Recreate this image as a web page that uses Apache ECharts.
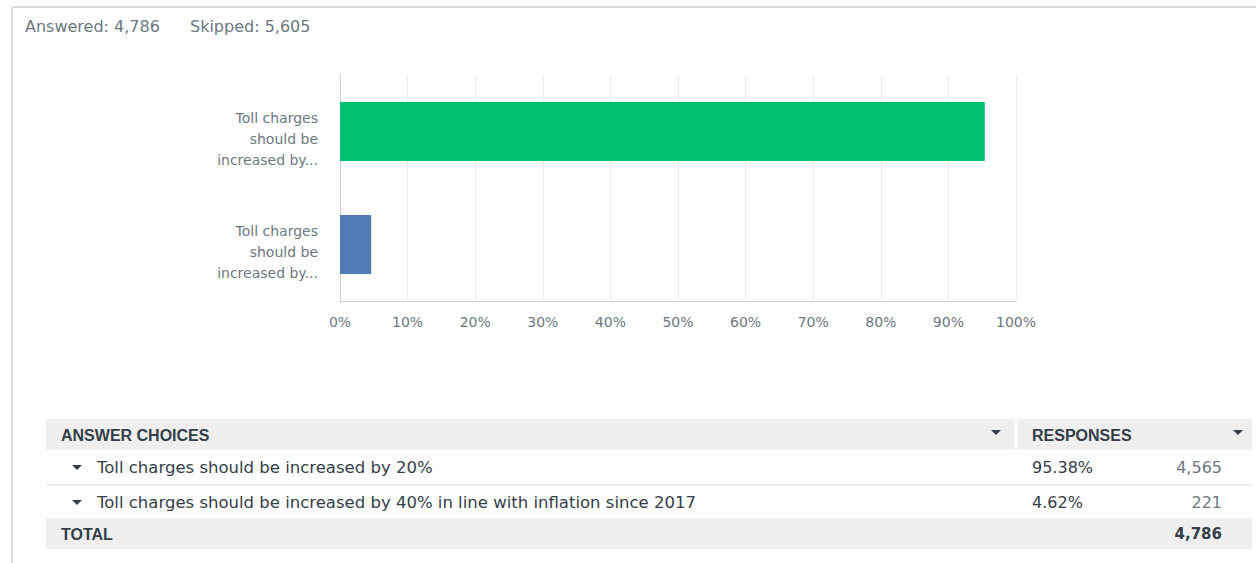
<!DOCTYPE html>
<html>
<head>
<meta charset="utf-8">
<script src="https://cdn.jsdelivr.net/npm/echarts@6/dist/echarts.min.js"></script>
<style>
html,body{margin:0;padding:0;background:#fff;}
#c{width:1256px;height:563px;}
</style>
</head>
<body>
<div id="c"></div>
<script>
var categories = [
  "Toll charges should be increased by 20%",
  "Toll charges should be increased by 40% in line with inflation since 2017"
];
var percents = [95.38, 4.62];
var counts = [4565, 221];
var answered = 4786;
var skipped = 5605;
var xTicks = [0, 10, 20, 30, 40, 50, 60, 70, 80, 90, 100];
var barColors = ["#00bf6f", "#507cb6"];

function fmt(n){ return n.toLocaleString("en-US"); }
function wrapLabel(s){
  var words = s.split(" "), lines = [], cur = "";
  for (var i = 0; i < words.length; i++) {
    var t = cur ? cur + " " + words[i] : words[i];
    if (t.length > 12 && cur) { lines.push(cur); cur = words[i]; } else { cur = t; }
  }
  if (cur) lines.push(cur);
  if (lines.length > 3) { lines = lines.slice(0, 3); lines[2] = lines[2] + "..."; }
  return '{p| }\n' + lines.map(function(l){ return '{a|' + l + '}'; }).join("\n");
}

var FONT = "'DejaVu Sans', sans-serif";
var BOLD = 'bold 16px "Liberation Sans", Arial, sans-serif';
var TXT = "#6b787f";
var DARK = "#333e48";
var total = counts.reduce(function(a,b){return a+b;},0);

var graphics = [
  {type:'line', shape:{x1:12,y1:7,x2:1256,y2:7}, style:{stroke:'#dcdcdc', lineWidth:2}},
  {type:'line', shape:{x1:12,y1:7,x2:12,y2:563}, style:{stroke:'#dcdcdc', lineWidth:2}},
  {type:'text', style:{text:'Answered: ' + fmt(answered), x:25, y:26, fill:TXT, font:'16px ' + FONT, textVerticalAlign:'middle'}},
  {type:'text', style:{text:'Skipped: ' + fmt(skipped), x:190, y:26, fill:TXT, font:'16px ' + FONT, textVerticalAlign:'middle'}},
  // header
  {type:'rect', shape:{x:46,y:419,width:1206,height:31}, style:{fill:'#efefef'}},
  {type:'line', shape:{x1:1016,y1:419,x2:1016,y2:450}, style:{stroke:'#ffffff', lineWidth:2}},
  {type:'text', style:{text:'ANSWER CHOICES', x:61, y:435, fill:DARK, font:BOLD, textVerticalAlign:'middle'}},
  {type:'text', style:{text:'RESPONSES', x:1032, y:435, fill:DARK, font:BOLD, textVerticalAlign:'middle'}},
  {type:'polygon', shape:{points:[[991,430],[1001,430],[996,435]]}, style:{fill:DARK}},
  {type:'polygon', shape:{points:[[1233,430],[1243,430],[1238,435]]}, style:{fill:DARK}},
  // rows separators
  {type:'line', shape:{x1:46,y1:485,x2:1252,y2:485}, style:{stroke:'#dddddd', lineWidth:1}},
  // total
  {type:'rect', shape:{x:46,y:518,width:1206,height:31}, style:{fill:'#efefef'}},
  {type:'text', style:{text:'TOTAL', x:61, y:534, fill:DARK, font:BOLD, textVerticalAlign:'middle'}},
  {type:'text', style:{text:fmt(total), x:1222, y:534, fill:DARK, font:'bold 15px ' + FONT, textAlign:'right', textVerticalAlign:'middle'}}
];
var rowY = [467, 502];
for (var i = 0; i < categories.length; i++) {
  var y = rowY[i];
  graphics.push({type:'polygon', shape:{points:[[72,y-2],[82,y-2],[77,y+3]]}, style:{fill:DARK}});
  graphics.push({type:'text', style:{text:categories[i], x:97, y:y, fill:DARK, font:'16.5px ' + FONT, textVerticalAlign:'middle'}});
  graphics.push({type:'text', style:{text:percents[i].toFixed(2) + '%', x:1032, y:y, fill:DARK, font:'16px ' + FONT, textVerticalAlign:'middle'}});
  graphics.push({type:'text', style:{text:fmt(counts[i]), x:1222, y:y, fill:TXT, font:'16px ' + FONT, textAlign:'right', textVerticalAlign:'middle'}});
}

var chart = echarts.init(document.getElementById('c'), null, {renderer:'svg'});
chart.setOption({
  animation:false,
  grid:{left:340, right:240, top:75, bottom:262, containLabel:false},
  xAxis:{
    type:'value', min:0, max:100, interval:10,
    axisLine:{show:true, lineStyle:{color:'#d0d0d0'}},
    axisTick:{show:false},
    splitLine:{show:true, lineStyle:{color:'#ebebeb'}},
    axisLabel:{color:TXT, fontSize:14, fontFamily:FONT, margin:14, formatter:function(v){return v + '%';}}
  },
  yAxis:{
    type:'category', inverse:true, data:categories,
    axisLine:{show:true, lineStyle:{color:'#cfcfcf'}},
    axisTick:{show:false},
    axisLabel:{
      color:TXT, fontSize:14, fontFamily:FONT, lineHeight:21, margin:22, align:'right',
      formatter:wrapLabel,
      rich:{
        p:{fontSize:2, lineHeight:14},
        a:{color:TXT, fontSize:14, fontFamily:FONT, lineHeight:21, align:'right'}
      }
    }
  },
  series:[{
    type:'bar', barWidth:'52%',
    data:percents.map(function(v,i){return {value:v, itemStyle:{color:barColors[i]}};})
  }],
  graphic:graphics
});
</script>
</body>
</html>
